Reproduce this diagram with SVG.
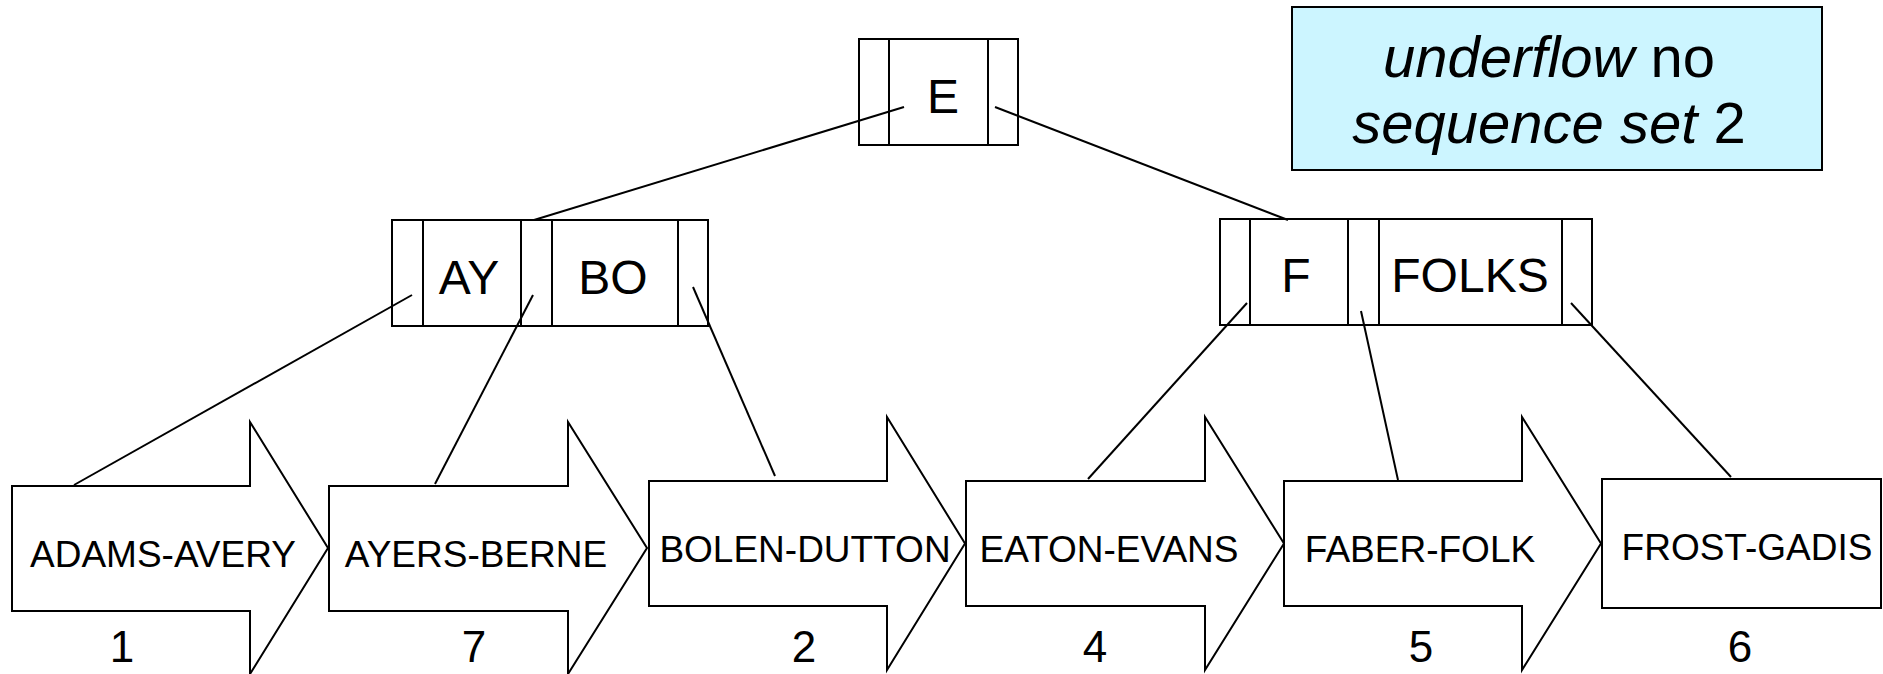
<svg xmlns="http://www.w3.org/2000/svg" width="1883" height="674" viewBox="0 0 1883 674">
<style>
.box{fill:#fff;stroke:#000;stroke-width:2}
.cell{fill:none;stroke:#000;stroke-width:2}
.div{stroke:#000;stroke-width:2}
.key{font-family:"Liberation Sans",Arial,sans-serif;font-size:48px;text-anchor:middle;fill:#000}
.lbl{font-family:"Liberation Sans",Arial,sans-serif;font-size:37px;text-anchor:middle;fill:#000}
.num{font-family:"Liberation Sans",Arial,sans-serif;font-size:44px;text-anchor:middle;fill:#000}
.note{font-family:"Liberation Sans",Arial,sans-serif;font-size:58px;text-anchor:middle;fill:#000}
.conn{stroke:#000;stroke-width:2;fill:none}
</style>
<rect width="1883" height="674" fill="#fff"/>
<g id="note">
<rect x="1292" y="7" width="530" height="163" fill="#CCF5FF" stroke="#000" stroke-width="2"/>
<text class="note" x="1549" y="77"><tspan font-style="italic">underflow</tspan> no</text>
<text class="note" x="1549" y="143"><tspan font-style="italic">sequence set</tspan> 2</text>
</g>
<g id="node-E">
<rect class="cell" x="859" y="39" width="159" height="106"/>
<line class="div" x1="889" y1="39" x2="889" y2="145"/>
<line class="div" x1="988" y1="39" x2="988" y2="145"/>
<text class="key" x="943" y="113">E</text>
</g>
<g id="node-AY-BO">
<rect class="cell" x="392" y="220" width="316" height="106"/>
<line class="div" x1="423" y1="220" x2="423" y2="326"/>
<line class="div" x1="521" y1="220" x2="521" y2="326"/>
<line class="div" x1="552" y1="220" x2="552" y2="326"/>
<line class="div" x1="678" y1="220" x2="678" y2="326"/>
<text class="key" x="469" y="294">AY</text>
<text class="key" x="613" y="294">BO</text>
</g>
<g id="node-F-FOLKS">
<rect class="cell" x="1220" y="219" width="372" height="106"/>
<line class="div" x1="1250" y1="219" x2="1250" y2="325"/>
<line class="div" x1="1348" y1="219" x2="1348" y2="325"/>
<line class="div" x1="1379" y1="219" x2="1379" y2="325"/>
<line class="div" x1="1562" y1="219" x2="1562" y2="325"/>
<text class="key" x="1296" y="292">F</text>
<text class="key" x="1470" y="292">FOLKS</text>
</g>
<g id="seq-1">
<path class="box" d="M12,486 H250 V422 L328,548 L250,674 V611 H12 Z"/>
<text class="lbl" x="163" y="567">ADAMS-AVERY</text>
<text class="num" x="122" y="662">1</text>
</g>
<g id="seq-7">
<path class="box" d="M329,486 H568 V422 L647,548 L568,674 V611 H329 Z"/>
<text class="lbl" x="476" y="567">AYERS-BERNE</text>
<text class="num" x="474" y="662">7</text>
</g>
<g id="seq-2">
<path class="box" d="M649,481 H887 V417 L965,543.5 L887,670 V606 H649 Z"/>
<text class="lbl" x="805" y="562">BOLEN-DUTTON</text>
<text class="num" x="804" y="662">2</text>
</g>
<g id="seq-4">
<path class="box" d="M966,481 H1205 V417 L1284,543.5 L1205,670 V606 H966 Z"/>
<text class="lbl" x="1109" y="562">EATON-EVANS</text>
<text class="num" x="1095" y="662">4</text>
</g>
<g id="seq-5">
<path class="box" d="M1284,481 H1522 V417 L1601,543.5 L1522,670 V606 H1284 Z"/>
<text class="lbl" x="1420" y="562">FABER-FOLK</text>
<text class="num" x="1421" y="662">5</text>
</g>
<g id="seq-6">
<rect class="box" x="1602" y="479" width="279" height="129"/>
<text class="lbl" x="1747" y="560">FROST-GADIS</text>
<text class="num" x="1740" y="662">6</text>
</g>
<g id="connectors">
<line class="conn" x1="904" y1="107" x2="534" y2="220"/>
<line class="conn" x1="995" y1="107" x2="1288" y2="220"/>
<line class="conn" x1="412" y1="295" x2="74" y2="485"/>
<line class="conn" x1="533" y1="295" x2="435" y2="484"/>
<line class="conn" x1="693" y1="287" x2="775" y2="476"/>
<line class="conn" x1="1247" y1="303" x2="1088" y2="479"/>
<line class="conn" x1="1361" y1="311" x2="1398" y2="480"/>
<line class="conn" x1="1571" y1="303" x2="1731" y2="477"/>
</g>
</svg>
